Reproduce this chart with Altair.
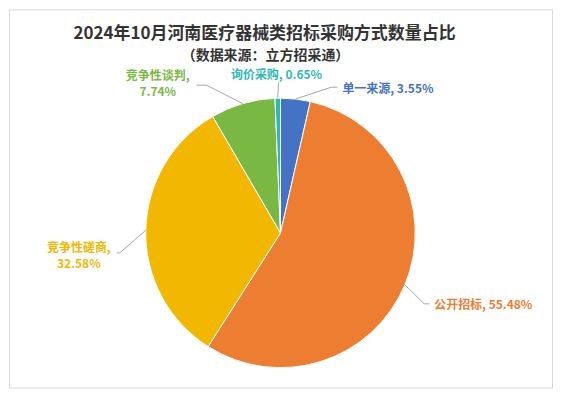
import altair as alt
import pandas as pd

# ---- data ----
categories = ["单一来源", "公开招标", "竞争性磋商", "竞争性谈判", "询价采购"]
shares = [3.55, 55.48, 32.58, 7.74, 0.65]
slice_colors = ["#4472C4", "#ED7D31", "#F2B700", "#78B843", "#2EB8B3"]
title_text = "2024年10月河南医疗器械类招标采购方式数量占比"
subtitle_text = "（数据来源：立方招采通）"

# ---- layout (pixels, view coords) ----
CX, CY, R = 272, 224, 135
elbow_dx = [51, 144, -161, -74, -2]
elbow_dy = [-146, 71, 20, -148, -151]
hline = [6, 5, -3, -10, 0]
text_dx = [11, 10, -41, -49, -2]
text_dy = [2, 1, -5, -9, -7]
text_align = ["left", "left", "center", "center", "center"]
two_lines = [0, 0, 1, 1, 0]

FONT = "Noto Sans CJK SC"

df = pd.DataFrame({
    "cat": categories,
    "share": shares,
    "idx": list(range(len(categories))),
    "edx": elbow_dx,
    "edy": elbow_dy,
    "hl": hline,
    "tdx": text_dx,
    "tdy": text_dy,
    "al": text_align,
    "two": two_lines,
})

color = alt.Color("cat:N", scale=alt.Scale(domain=categories, range=slice_colors), legend=None)

base = alt.Chart(df)

arcs = base.mark_arc(outerRadius=R, stroke="white", strokeWidth=1).encode(
    theta=alt.Theta("share:Q", stack=True),
    color=color,
    order=alt.Order("idx:Q"),
    x=alt.value(CX),
    y=alt.value(CY),
)

geo = base.transform_window(
    cum="sum(share)", sort=[alt.SortField("idx")], frame=[None, 0]
).transform_joinaggregate(
    total="sum(share)"
).transform_calculate(
    mid="(datum.cum - datum.share/2) / datum.total * 2 * PI"
).transform_calculate(
    px=f"{CX} + {R} * sin(datum.mid)",
    py=f"{CY} - {R} * cos(datum.mid)",
    ex=f"{CX} + datum.edx",
    ey=f"{CY} + datum.edy",
).transform_calculate(
    hx="datum.ex + datum.hl",
    tx="datum.ex + datum.tdx",
    ty="datum.ey + datum.tdy",
    lbl="datum.cat + ',' + (datum.two ? '\\n' : ' ') + format(datum.share, '.2f') + '%'",
)

rule1 = geo.mark_rule(color="#A6A6A6", strokeWidth=1).encode(
    x=alt.X("px:Q", scale=None), y=alt.Y("py:Q", scale=None),
    x2="ex:Q", y2="ey:Q",
)
rule2 = geo.mark_rule(color="#A6A6A6", strokeWidth=1).encode(
    x=alt.X("ex:Q", scale=None), y=alt.Y("ey:Q", scale=None),
    x2="hx:Q", y2="ey:Q",
)

txt_left = geo.transform_filter("datum.al == 'left'").mark_text(
    align="left", baseline="middle", font=FONT, fontSize=12, fontWeight="bold", lineBreak="\n", lineHeight=16
).encode(
    x=alt.X("tx:Q", scale=None), y=alt.Y("ty:Q", scale=None), text="lbl:N", color=color,
)
txt_center = geo.transform_filter("datum.al == 'center'").mark_text(
    align="center", baseline="middle", font=FONT, fontSize=12, fontWeight="bold", lineBreak="\n", lineHeight=16
).encode(
    x=alt.X("tx:Q", scale=None), y=alt.Y("ty:Q", scale=None), text="lbl:N", color=color,
)

title_df = pd.DataFrame({"t": [title_text]})
sub_df = pd.DataFrame({"t": [subtitle_text]})
title = alt.Chart(title_df).mark_text(
    align="center", baseline="middle", font=FONT, fontSize=17, fontWeight="bold", color="#333333"
).encode(text="t:N", x=alt.value(256), y=alt.value(25))
subtitle = alt.Chart(sub_df).mark_text(
    align="center", baseline="middle", font=FONT, fontSize=14, fontWeight="bold", color="#333333"
).encode(text="t:N", x=alt.value(257), y=alt.value(47))

chart = alt.layer(arcs, rule1, rule2, txt_left, txt_center, title, subtitle).properties(
    width=544, height=379, autosize=alt.AutoSizeParams(type="none"), padding=1,
    background="white",
).configure_view(stroke="#D9D9D9", strokeWidth=1)

chart.save("out.html", embed_options={"renderer": "svg", "actions": False})
